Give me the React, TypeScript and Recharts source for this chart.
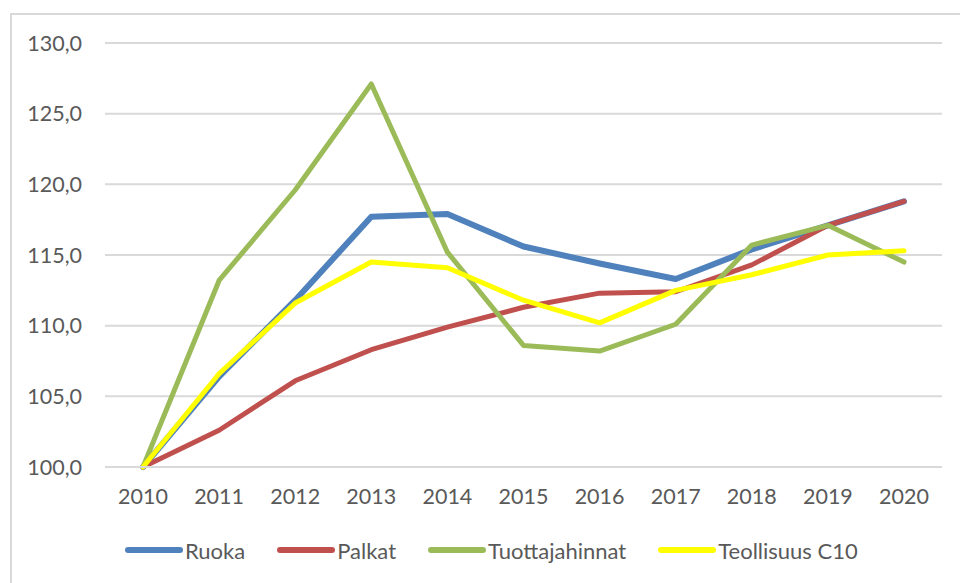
import React from "react";
import { LineChart, Line, XAxis, YAxis, CartesianGrid, Legend } from "recharts";

const years = ["2010", "2011", "2012", "2013", "2014", "2015", "2016", "2017", "2018", "2019", "2020"];
const ruoka = [100, 106.4, 111.8, 117.7, 117.9, 115.6, 114.4, 113.3, 115.4, 117.1, 118.8];
const palkat = [100, 102.6, 106.1, 108.3, 109.9, 111.3, 112.3, 112.4, 114.3, 117.1, 118.8];
const tuottajahinnat = [100, 113.2, 119.6, 127.1, 115.2, 108.6, 108.2, 110.1, 115.7, 117.1, 114.5];
const teollisuus = [100, 106.6, 111.6, 114.5, 114.1, 111.8, 110.2, 112.5, 113.6, 115.0, 115.3];
const yTicks = [100, 105, 110, 115, 120, 125, 130];

const seriesNames = ["Ruoka", "Palkat", "Tuottajahinnat", "Teollisuus C10"];
const seriesKeys = ["ruoka", "palkat", "tuottajahinnat", "teollisuus"];
const seriesColors = ["#4F81BD", "#C0504D", "#9BBB59", "#FFFF00"];
const seriesWidths = [6, 5, 5, 5];

const data = years.map((y, i) => ({
  year: y,
  ruoka: ruoka[i],
  palkat: palkat[i],
  tuottajahinnat: tuottajahinnat[i],
  teollisuus: teollisuus[i],
}));

const FONT = "Lato, 'Liberation Sans', sans-serif";
const TEXT = "#595959";

const LegendContent = () => (
  <div
    style={{
      height: 76,
      display: "flex",
      alignItems: "center",
      paddingLeft: 125,
      paddingTop: 10,
      boxSizing: "border-box",
      fontFamily: FONT,
      fontSize: 22,
      color: TEXT,
    }}
  >
    {seriesNames.map((n, i) => (
      <div key={n} style={{ display: "flex", alignItems: "center", marginRight: 32 }}>
        <span
          style={{
            display: "inline-block",
            width: 58,
            height: 6,
            borderRadius: 3,
            background: seriesColors[i],
            marginRight: 2,
          }}
        />
        <span>{n}</span>
      </div>
    ))}
  </div>
);

export default function App() {
  return (
    <div
      style={{
        position: "fixed",
        left: 0,
        top: 0,
        width: 960,
        height: 583,
        overflow: "hidden",
        background: "#ffffff",
      }}
    >
      <div
        style={{
          position: "absolute",
          left: 10,
          top: 13,
          width: 1000,
          height: 700,
          borderLeft: "2px solid #d9d9d9",
          borderTop: "2px solid #d9d9d9",
        }}
      />
      <div style={{ position: "absolute", left: 0, top: 0 }}>
        <LineChart
          width={960}
          height={583}
          data={data}
          margin={{ top: 43, right: 18, bottom: 0, left: 0 }}
        >
          <CartesianGrid vertical={false} stroke="#d9d9d9" strokeWidth={2} />
          <XAxis
            dataKey="year"
            height={40}
            padding={{ left: 38, right: 38 }}
            axisLine={{ stroke: "#d9d9d9", strokeWidth: 2 }}
            tickLine={false}
            tickSize={0}
            tickMargin={22}
            tick={{ fill: TEXT, fontSize: 21.5, fontFamily: FONT }}
            interval={0}
          />
          <YAxis
            width={105}
            domain={[100, 130]}
            ticks={yTicks}
            axisLine={false}
            tickLine={false}
            tickSize={0}
            tickMargin={23}
            tickFormatter={(v: number) => v.toFixed(1).replace(".", ",")}
            tick={{ fill: TEXT, fontSize: 21.5, fontFamily: FONT }}
          />
          <Legend verticalAlign="bottom" content={<LegendContent />} />
          {seriesKeys.map((k, i) => (
            <Line
              key={k}
              type="linear"
              dataKey={k}
              name={seriesNames[i]}
              stroke={seriesColors[i]}
              strokeWidth={seriesWidths[i]}
              strokeLinejoin="round"
              strokeLinecap="round"
              dot={false}
              activeDot={false}
              isAnimationActive={false}
            />
          ))}
        </LineChart>
      </div>
    </div>
  );
}
